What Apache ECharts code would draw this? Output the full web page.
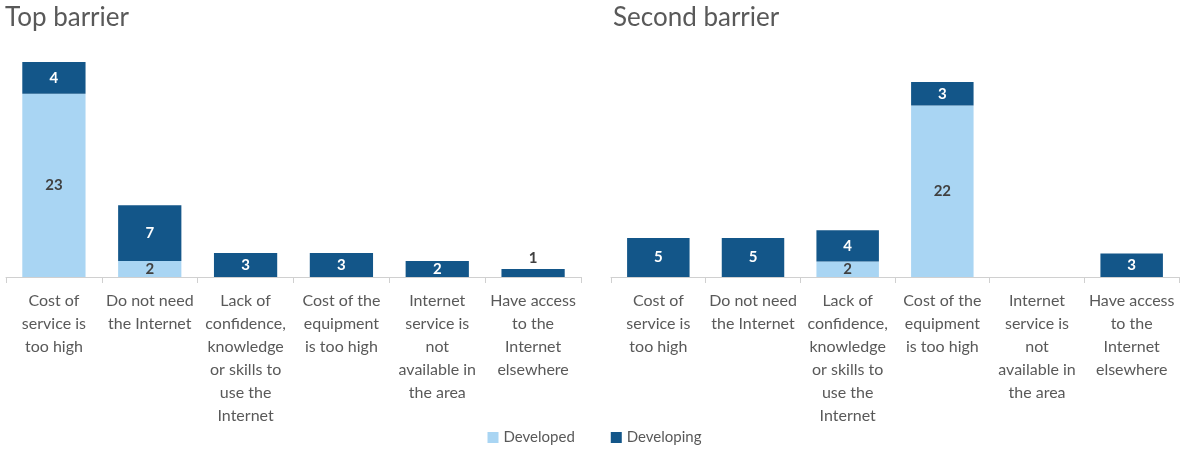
<!DOCTYPE html>
<html><head><meta charset="utf-8">
<script src="https://cdn.jsdelivr.net/npm/echarts@6/dist/echarts.min.js"></script>
<style>html,body{margin:0;padding:0;background:#fff}#c{width:1189px;height:452px}</style>
</head><body><div id="c"></div>
<script>
const categories = [
  "Cost of\nservice is\ntoo high",
  "Do not need\nthe Internet",
  "Lack of\nconfidence,\nknowledge\nor skills to\nuse the\nInternet",
  "Cost of the\nequipment\nis too high",
  "Internet\nservice is\nnot\navailable in\nthe area",
  "Have access\nto the\nInternet\nelsewhere"
];
const titles = ["Top barrier", "Second barrier"];
const seriesNames = ["Developed", "Developing"];
const topDeveloped = [23, 2, 0, 0, 0, 0];
const topDeveloping = [4, 7, 3, 3, 2, 1];
const secondDeveloped = [0, 0, 2, 22, 0, 0];
const secondDeveloping = [5, 5, 4, 3, 0, 3];

const FONT = 'Lato';
const LIGHT = '#A9D5F3';
const DARK = '#135689';
const TXT = '#595959';

function mk(vals, dark) {
  return vals.map(v => {
    const o = {value: v};
    if (dark && v > 0 && v <= 1) {
      o.label = {position: 'top', color: '#404040', distance: 3};
    }
    return o;
  });
}
const labelFmt = p => (p.value ? String(p.value) : '');
function series(name, vals, dark, idx) {
  return {
    name, type: 'bar', stack: 's' + idx, xAxisIndex: idx, yAxisIndex: idx,
    barCategoryGap: '34%', data: mk(vals, dark),
    itemStyle: {color: dark ? DARK : LIGHT},
    label: {show: true, position: 'inside', formatter: labelFmt,
      color: dark ? '#ffffff' : '#404040', fontWeight: 'bold', fontSize: 15, fontFamily: FONT},
    emphasis: {disabled: true}
  };
}
function xAx(idx) {
  return {type: 'category', gridIndex: idx, data: categories,
    axisLine: {lineStyle: {color: '#d0d0d0', width: 1}},
    axisTick: {show: true, length: 6, lineStyle: {color: '#d0d0d0'}},
    axisLabel: {color: TXT, fontSize: 16, fontFamily: FONT, lineHeight: 23, margin: 12, interval: 0}};
}
function yAx(idx) {
  return {type: 'value', gridIndex: idx, min: 0, max: 30, show: false, splitLine: {show: false}};
}
const chart = echarts.init(document.getElementById('c'), null, {renderer: 'canvas'});
chart.setOption({
  animation: false,
  textStyle: {fontFamily: FONT},
  title: [
    {text: titles[0], left: 0, top: 0, textStyle: {fontSize: 26, fontWeight: 'normal', color: TXT, fontFamily: FONT}},
    {text: titles[1], left: 608, top: 0, textStyle: {fontSize: 26, fontWeight: 'normal', color: TXT, fontFamily: FONT}}
  ],
  legend: {data: seriesNames, bottom: 2, left: 'center', itemWidth: 11, itemHeight: 11, itemGap: 36,
    icon: 'rect', textStyle: {color: TXT, fontSize: 15, fontFamily: FONT}},
  grid: [
    {left: 6, right: 608, top: 38, bottom: 175},
    {left: 611, right: 10, top: 43, bottom: 175}
  ],
  xAxis: [xAx(0), xAx(1)],
  yAxis: [yAx(0), yAx(1)],
  series: [
    series(seriesNames[0], topDeveloped, false, 0),
    series(seriesNames[1], topDeveloping, true, 0),
    series(seriesNames[0], secondDeveloped, false, 1),
    series(seriesNames[1], secondDeveloping, true, 1)
  ]
});
</script></body></html>
